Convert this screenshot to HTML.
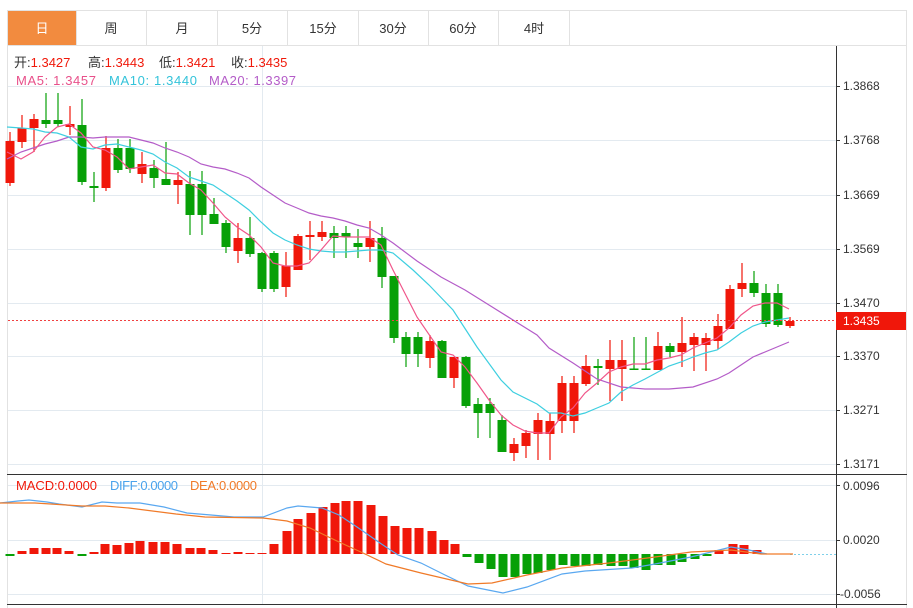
<!DOCTYPE html>
<html><head><meta charset="utf-8"><style>
html,body{margin:0;padding:0;background:#fff;width:913px;height:608px;overflow:hidden}
svg{display:block;font-family:"Liberation Sans","Noto Sans CJK SC",sans-serif}
</style></head><body>
<svg width="913" height="608" viewBox="0 0 913 608" xmlns="http://www.w3.org/2000/svg">
<rect x="7.5" y="10.5" width="899" height="600" fill="none" stroke="#e2e2e2"/>
<rect x="8" y="11" width="68" height="34" fill="#f28b3f"/>
<g stroke="#e2e2e2"><line x1="7" y1="45.5" x2="907" y2="45.5"/>
<line x1="76.5" y1="11" x2="76.5" y2="45"/><line x1="146.5" y1="11" x2="146.5" y2="45"/><line x1="217.5" y1="11" x2="217.5" y2="45"/><line x1="287.5" y1="11" x2="287.5" y2="45"/><line x1="358.5" y1="11" x2="358.5" y2="45"/><line x1="428.5" y1="11" x2="428.5" y2="45"/><line x1="498.5" y1="11" x2="498.5" y2="45"/><line x1="569.5" y1="11" x2="569.5" y2="45"/></g>
<g font-size="13" text-anchor="middle" fill="#333">
<text x="42" y="33" fill="#fff">日</text><text x="111" y="33">周</text><text x="182" y="33">月</text><text x="252" y="33">5分</text><text x="323" y="33">15分</text><text x="393" y="33">30分</text><text x="463" y="33">60分</text><text x="534" y="33">4时</text></g>
<g stroke="#e3eaf0" stroke-width="1">
<line x1="8" y1="86.5" x2="836" y2="86.5"/><line x1="8" y1="140.5" x2="836" y2="140.5"/><line x1="8" y1="195.5" x2="836" y2="195.5"/><line x1="8" y1="249.5" x2="836" y2="249.5"/><line x1="8" y1="303.5" x2="836" y2="303.5"/><line x1="8" y1="356.5" x2="836" y2="356.5"/><line x1="8" y1="410.5" x2="836" y2="410.5"/><line x1="8" y1="464.5" x2="836" y2="464.5"/>
<line x1="262.5" y1="46" x2="262.5" y2="604"/>
<line x1="8" y1="485.5" x2="836" y2="485.5"/><line x1="8" y1="540.5" x2="836" y2="540.5"/><line x1="8" y1="594.5" x2="836" y2="594.5"/>
</g>
<g stroke="#333"><line x1="836.5" y1="46" x2="836.5" y2="608"/><line x1="7" y1="474.5" x2="907" y2="474.5"/><line x1="7" y1="604.5" x2="907" y2="604.5"/>
<line x1="836" y1="86.5" x2="840" y2="86.5"/><line x1="836" y1="140.5" x2="840" y2="140.5"/><line x1="836" y1="195.5" x2="840" y2="195.5"/><line x1="836" y1="249.5" x2="840" y2="249.5"/><line x1="836" y1="303.5" x2="840" y2="303.5"/><line x1="836" y1="356.5" x2="840" y2="356.5"/><line x1="836" y1="410.5" x2="840" y2="410.5"/><line x1="836" y1="464.5" x2="840" y2="464.5"/><line x1="836" y1="485.5" x2="840" y2="485.5"/><line x1="836" y1="540.5" x2="840" y2="540.5"/><line x1="836" y1="594.5" x2="840" y2="594.5"/></g>
<g font-size="12" fill="#333">
<text x="843" y="90">1.3868</text><text x="843" y="144">1.3768</text><text x="843" y="199">1.3669</text><text x="843" y="253">1.3569</text><text x="843" y="307">1.3470</text><text x="843" y="360">1.3370</text><text x="843" y="414">1.3271</text><text x="843" y="468">1.3171</text>
<text x="843" y="490">0.0096</text><text x="843" y="544">0.0020</text><text x="840" y="598">-0.0056</text></g>
<g font-size="13">
<text x="14" y="67" fill="#333">开:<tspan fill="#f0190a">1.3427</tspan></text>
<text x="88" y="67" fill="#333">高:<tspan fill="#f0190a">1.3443</tspan></text>
<text x="159" y="67" fill="#333">低:<tspan fill="#f0190a">1.3421</tspan></text>
<text x="231" y="67" fill="#333">收:<tspan fill="#f0190a">1.3435</tspan></text>
<text x="16" y="85" fill="#e8508a" textLength="80">MA5: 1.3457</text><text x="109" y="85" fill="#33c3da" textLength="88">MA10: 1.3440</text><text x="209" y="85" fill="#b45cc8" textLength="87">MA20: 1.3397</text>
<text x="16" y="490" fill="#f0190a" textLength="81">MACD:0.0000</text><text x="110" y="490" fill="#4aa3ec" textLength="68">DIFF:0.0000</text><text x="190" y="490" fill="#f07a28" textLength="67">DEA:0.0000</text></g>
<g stroke="#f0170a" stroke-width="1.2">
<path d="M10 132V186M22 115V148M34 114V152M70 106V135M106 136V191M142 152V183M178 172V204M238 223V263M286 252V297M298 234V270M310 221V260M322 221V241M370 221V262M430 335V368M454 357V388M514 438V461M526 430V458M538 413V460M550 413V460M562 376V433M574 376V433M586 355V386M610 340V401M622 340V401M658 332V370M682 317V367M694 333V371M706 333V371M718 314V349M730 285V329M742 263V297M790 317V328"/></g>
<g fill="#f0170a">
<rect x="5.5" y="141" width="9" height="42"/><rect x="17.5" y="128" width="9" height="14"/><rect x="29.5" y="119" width="9" height="9"/><rect x="65.5" y="124" width="9" height="3"/><rect x="101.5" y="148" width="9" height="40"/><rect x="137.5" y="164" width="9" height="10"/><rect x="173.5" y="180" width="9" height="5"/><rect x="233.5" y="238" width="9" height="13"/><rect x="281.5" y="266" width="9" height="21"/><rect x="293.5" y="236" width="9" height="34"/><rect x="305.5" y="235" width="9" height="2"/><rect x="317.5" y="232" width="9" height="5"/><rect x="365.5" y="238" width="9" height="9"/><rect x="425.5" y="341" width="9" height="17"/><rect x="449.5" y="357" width="9" height="21"/><rect x="509.5" y="444" width="9" height="9"/><rect x="521.5" y="433" width="9" height="13"/><rect x="533.5" y="420" width="9" height="14"/><rect x="545.5" y="421" width="9" height="13"/><rect x="557.5" y="383" width="9" height="38"/><rect x="569.5" y="383" width="9" height="38"/><rect x="581.5" y="366" width="9" height="18"/><rect x="605.5" y="360" width="9" height="9"/><rect x="617.5" y="360" width="9" height="9"/><rect x="653.5" y="346" width="9" height="24"/><rect x="677.5" y="343" width="9" height="9"/><rect x="689.5" y="337" width="9" height="8"/><rect x="701.5" y="338" width="9" height="7"/><rect x="713.5" y="326" width="9" height="15"/><rect x="725.5" y="289" width="9" height="40"/><rect x="737.5" y="283" width="9" height="6"/><rect x="785.5" y="321" width="9" height="5"/></g>
<g stroke="#07a007" stroke-width="1.2">
<path d="M46 93V128M58 93V127M82 99V185M94 172V202M118 139V173M130 139V173M154 160V188M166 142V185M190 171V235M202 171V235M214 198V224M226 220V253M250 217V257M262 252V292M274 251V292M334 226V258M346 226V258M358 229V258M382 227V288M394 276V343M406 332V367M418 332V367M442 340V378M466 356V408M478 398V438M490 398V438M502 415V452M598 359V385M634 337V370M646 337V370M670 343V357M754 271V297M766 284V327M778 284V327"/></g>
<g fill="#07a007">
<rect x="41.5" y="120" width="9" height="4"/><rect x="53.5" y="120" width="9" height="4"/><rect x="77.5" y="125" width="9" height="57"/><rect x="89.5" y="186" width="9" height="2"/><rect x="113.5" y="148" width="9" height="22"/><rect x="125.5" y="148" width="9" height="21"/><rect x="149.5" y="168" width="9" height="10"/><rect x="161.5" y="179" width="9" height="6"/><rect x="185.5" y="184" width="9" height="31"/><rect x="197.5" y="184" width="9" height="31"/><rect x="209.5" y="214" width="9" height="10"/><rect x="221.5" y="223" width="9" height="24"/><rect x="245.5" y="238" width="9" height="16"/><rect x="257.5" y="253" width="9" height="36"/><rect x="269.5" y="253" width="9" height="36"/><rect x="329.5" y="233" width="9" height="5"/><rect x="341.5" y="233" width="9" height="4"/><rect x="353.5" y="243" width="9" height="4"/><rect x="377.5" y="238" width="9" height="39"/><rect x="389.5" y="276" width="9" height="62"/><rect x="401.5" y="337" width="9" height="17"/><rect x="413.5" y="337" width="9" height="17"/><rect x="437.5" y="341" width="9" height="37"/><rect x="461.5" y="357" width="9" height="49"/><rect x="473.5" y="404" width="9" height="9"/><rect x="485.5" y="404" width="9" height="9"/><rect x="497.5" y="420" width="9" height="32"/><rect x="593.5" y="366" width="9" height="2"/><rect x="629.5" y="368.5" width="9" height="1.5"/><rect x="641.5" y="368.5" width="9" height="1.5"/><rect x="665.5" y="346" width="9" height="6"/><rect x="749.5" y="283" width="9" height="10"/><rect x="761.5" y="293" width="9" height="31"/><rect x="773.5" y="293" width="9" height="32"/></g>
<g fill="none" stroke-width="1.2">
<polyline stroke="#b45cc8" points="7,159 21,152 33,148 45,144 57,141 69,137 81,137 93,138 105,137 117,137 129,137 141,140 153,143 165,148 177,152 189,157 201,164 213,167 225,169 237,173 249,178 261,187 273,195 285,203 297,208 309,213 321,216 333,218 345,221 357,225 369,228 381,235 393,243 417,261 441,277 465,290 489,305 513,320 537,335 549,348 573,363 597,379 621,387 645,389 669,389 693,387 717,379 729,373 741,365 753,357 777,347 789,342"/>
<polyline stroke="#3ecfe0" points="7,127 21,128 33,129 45,132 57,133 69,137 81,147 93,149 105,145 117,144 129,147 141,150 153,154 165,162 177,168 189,177 201,181 213,185 225,193 237,201 249,210 261,222 273,233 285,240 297,245 309,249 321,251 333,252 345,252 357,251 369,250 381,250 393,253 413,270 429,285 453,310 477,347 501,380 513,392 537,404 549,413 561,413 573,416 585,413 597,408 609,403 621,392 633,385 645,379 669,366 681,362 693,357 705,353 717,350 729,342 741,333 753,326 765,322 777,320 789,318"/>
<polyline stroke="#f0568a" points="7,152 21,159 33,152 45,137 57,127 69,124 81,133 93,147 105,150 117,157 129,169 141,167 153,165 165,173 177,174 189,183 201,190 213,203 225,217 237,227 249,235 261,247 273,263 285,266 297,266 309,263 321,250 333,236 345,237 357,237 369,237 381,245 393,270 417,317 441,352 453,355 465,367 477,383 489,400 501,415 513,425 525,431 537,433 549,433 561,417 573,408 585,393 597,383 609,372 621,367 633,364 645,364 657,360 669,358 681,355 693,348 705,343 717,338 729,328 741,315 753,306 765,303 777,303 789,309"/>
</g>
<line x1="8" y1="320.5" x2="836" y2="320.5" stroke="#f04040" stroke-dasharray="2,2"/>
<rect x="836" y="312" width="70" height="18" fill="#f0170a"/>
<text x="843" y="325" font-size="12" fill="#fff">1.3435</text>
<g fill="#f0170a">
<rect x="17.5" y="551" width="9" height="3"/><rect x="29.5" y="548" width="9" height="6"/><rect x="41.5" y="548" width="9" height="6"/><rect x="52.5" y="548" width="9" height="6"/><rect x="64.5" y="551" width="9" height="3"/><rect x="89.5" y="552" width="9" height="2"/><rect x="100.5" y="544" width="9" height="10"/><rect x="112.5" y="545" width="9" height="9"/><rect x="124.5" y="543" width="9" height="11"/><rect x="135.5" y="541" width="9" height="13"/><rect x="148.5" y="542" width="9" height="12"/><rect x="160.5" y="542" width="9" height="12"/><rect x="172.5" y="544" width="9" height="10"/><rect x="185.5" y="548" width="9" height="6"/><rect x="196.5" y="548" width="9" height="6"/><rect x="208.5" y="550" width="9" height="4"/><rect x="221.5" y="553" width="9" height="1"/><rect x="233.5" y="552" width="9" height="2"/><rect x="245.5" y="553" width="9" height="1"/><rect x="257.5" y="553" width="9" height="1"/><rect x="269.5" y="544" width="9" height="10"/><rect x="282.5" y="531" width="9" height="23"/><rect x="293.5" y="519" width="9" height="35"/><rect x="306.5" y="513" width="9" height="41"/><rect x="318.5" y="507" width="9" height="47"/><rect x="330.5" y="503" width="9" height="51"/><rect x="341.5" y="501" width="9" height="53"/><rect x="353.5" y="501" width="9" height="53"/><rect x="366.5" y="505" width="9" height="49"/><rect x="378.5" y="516" width="9" height="38"/><rect x="390.5" y="526" width="9" height="28"/><rect x="402.5" y="528" width="9" height="26"/><rect x="414.5" y="528" width="9" height="26"/><rect x="427.5" y="531" width="9" height="23"/><rect x="439.5" y="540" width="9" height="14"/><rect x="450.5" y="544" width="9" height="10"/><rect x="714.5" y="550" width="9" height="4"/><rect x="728.5" y="544" width="9" height="10"/><rect x="739.5" y="545" width="9" height="9"/><rect x="752.5" y="550" width="9" height="4"/></g>
<g fill="#07a007">
<rect x="5.5" y="554" width="9" height="2"/><rect x="77.5" y="554" width="9" height="2"/><rect x="462.5" y="554" width="9" height="3"/><rect x="474.5" y="554" width="9" height="9"/><rect x="486.5" y="554" width="9" height="15"/><rect x="498.5" y="554" width="9" height="23"/><rect x="510.5" y="554" width="9" height="23"/><rect x="522.5" y="554" width="9" height="20"/><rect x="533.5" y="554" width="9" height="19"/><rect x="546.5" y="554" width="9" height="16"/><rect x="558.5" y="554" width="9" height="11"/><rect x="570.5" y="554" width="9" height="12"/><rect x="581.5" y="554" width="9" height="12"/><rect x="593.5" y="554" width="9" height="11"/><rect x="606.5" y="554" width="9" height="12"/><rect x="618.5" y="554" width="9" height="12"/><rect x="629.5" y="554" width="9" height="14"/><rect x="641.5" y="554" width="9" height="16"/><rect x="653.5" y="554" width="9" height="11"/><rect x="666.5" y="554" width="9" height="11"/><rect x="677.5" y="554" width="9" height="8"/><rect x="690.5" y="554" width="9" height="5"/><rect x="702.5" y="554" width="9" height="2"/></g>
<line x1="790" y1="554.5" x2="836" y2="554.5" stroke="#7fd0ea" stroke-dasharray="2,2"/>
<g fill="none" stroke-width="1.2">
<polyline stroke="#5aa8f0" points="0,503 18,501 29,500 47,502 59,504 82,507 102,502 117,503 140,503 164,507 187,513 211,515 234,517 263,517 287,508 298,506 322,508 339,515 357,527 380,543 398,555 421,563 445,575 468,586 503,593 527,587 562,574 585,571 632,568 655,564 691,557 731,547 749,550 767,554"/>
<polyline stroke="#f07a28" points="0,503 35,503 82,506 105,506 129,508 176,514 205,517 263,518 287,521 310,528 339,542 363,553 386,564 421,573 468,584 492,583 527,575 562,568 609,563 655,557 691,552 731,550 761,554 793,554"/>
</g>
</svg>
</body></html>
